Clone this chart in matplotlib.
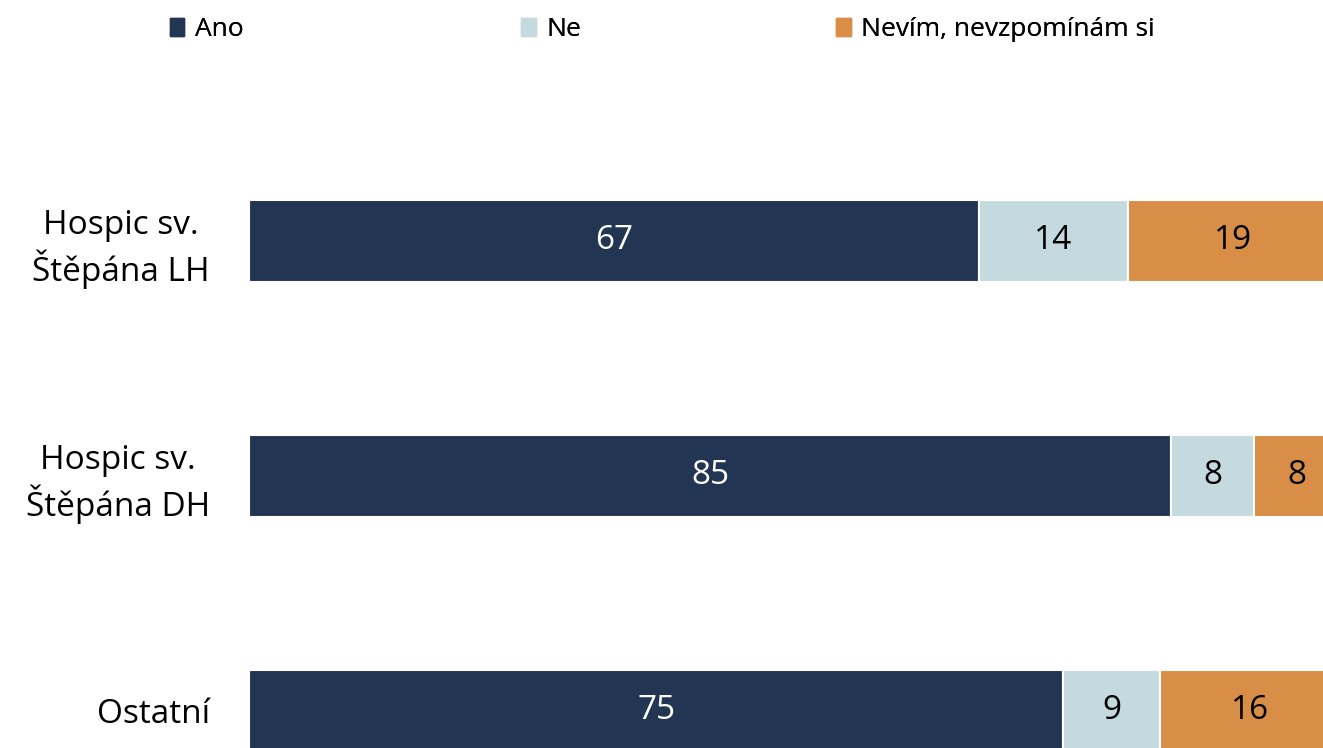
import matplotlib.pyplot as plt
from matplotlib.patches import Patch

plt.rcParams['font.family'] = ['Open Sans', 'DejaVu Sans']

categories = ['Hospic sv.\nŠtěpána LH', 'Hospic sv.\nŠtěpána DH', 'Ostatní']
ano = [67.0, 84.6, 74.7]
ne = [13.6, 7.6, 8.9]
nevim = [19.4, 7.8, 16.4]
series_names = ['Ano', 'Ne', 'Nevím, nevzpomínám si']
colors = ['#223654', '#C5DADF', '#D98E48']
text_colors = ['white', 'black', 'black']

fig = plt.figure(figsize=(13.23, 7.48), dpi=100)
ax = fig.add_axes([0.1882, -0.1076, 0.824, 0.9425])

ypos = list(range(len(categories)))
left = [0.0] * len(categories)
for vals, col, tcol in zip([ano, ne, nevim], colors, text_colors):
    bars = ax.barh(ypos, vals, left=left, height=0.35, color=col,
                   edgecolor='white', linewidth=1.5)
    for b, v in zip(bars, vals):
        ax.text(b.get_x() + b.get_width() / 2, b.get_y() + b.get_height() / 2,
                f'{v:.0f}', ha='center', va='center', fontsize=24, color=tcol)
    left = [l + v for l, v in zip(left, vals)]

ax.set_xlim(0, 100)
ax.set_ylim(2.5, -0.5)
ax.set_yticks(ypos)
ax.set_yticklabels(categories, fontsize=24, multialignment='center', linespacing=1.25)
ax.tick_params(axis='y', length=0, pad=28)
ax.set_xticks([])
for s in ax.spines.values():
    s.set_visible(False)

# legend entries placed one by one along the top
legend_x = [0.1205, 0.386, 0.624]
for name, col, lx in zip(series_names, colors, legend_x):
    lg = fig.legend([Patch(color=col)], [name], loc='center left', bbox_to_anchor=(lx, 0.96),
                    frameon=False, fontsize=19, handlelength=0.55, handleheight=0.65,
                    handletextpad=0.4, borderaxespad=0)
    fig.add_artist(lg)

plt.savefig('out.png', dpi=100)
